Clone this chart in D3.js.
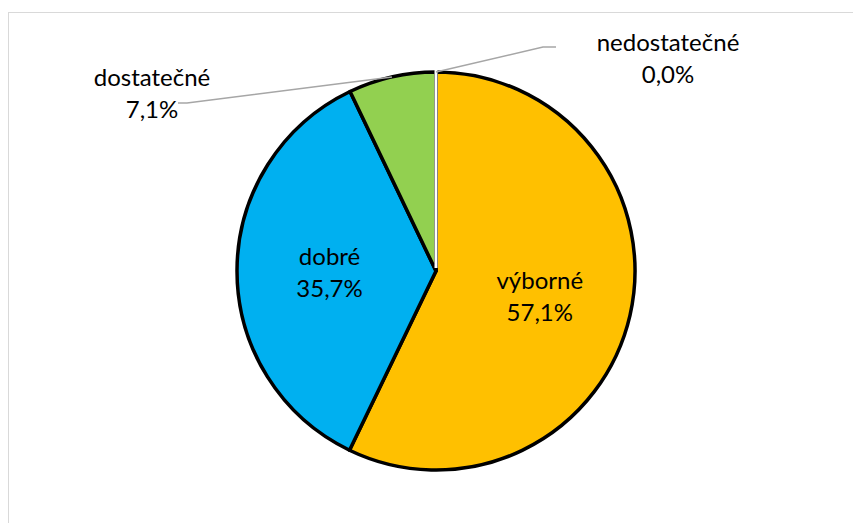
<!DOCTYPE html>
<html><head><meta charset="utf-8">
<script src="https://cdn.jsdelivr.net/npm/d3@7"></script>
<style>
html,body{margin:0;padding:0;background:#fff;}
svg{display:block;}
text{font-family:Lato,"Open Sans",sans-serif;fill:#000;}
</style></head>
<body>
<script>
// data
const categories = ["výborné", "dobré", "dostatečné", "nedostatečné"];
const values = [57.1, 35.7, 7.1, 0.0];
const valueLabels = ["57,1%", "35,7%", "7,1%", "0,0%"];
const colors = ["#FFC000", "#00B0F0", "#92D050", "#FFFFFF"];

const W = 853, H = 523;
const svg = d3.select("body").append("svg").attr("width", W).attr("height", H);

// chart frame
svg.append("rect").attr("x", 8.5).attr("y", 12.5).attr("width", W + 10).attr("height", H + 10)
  .attr("fill", "#fff").attr("stroke", "#d9d9d9").attr("stroke-width", 1);

const cx = 436, cy = 271, R = 199;
const g = svg.append("g").attr("transform", `translate(${cx},${cy})`);

const data = categories.map((c, i) => ({cat: c, value: values[i], label: valueLabels[i], color: colors[i]}));
const pie = d3.pie().sort(null).value(d => d.value);
const arcs = pie(data);
const arc = d3.arc().innerRadius(0).outerRadius(R);

// slices with black outline
g.selectAll("path.slice").data(arcs.filter(a => a.data.value > 0)).join("path")
  .attr("class", "slice")
  .attr("d", arc)
  .attr("fill", d => d.data.color)
  .attr("stroke", "#000").attr("stroke-width", 3.5).attr("stroke-linejoin", "round");

// zero slice: appears as a white line from centre to rim
arcs.filter(a => a.data.value === 0).forEach(a => {
  const ang = a.startAngle;
  g.append("line")
    .attr("x1", 0).attr("y1", 0)
    .attr("x2", (R - 0.5) * Math.sin(ang)).attr("y2", -(R - 0.5) * Math.cos(ang))
    .attr("stroke", "#fff").attr("stroke-width", 3)
    .attr("transform", `translate(0,${-3})`);
});

const fs = 24, lh = 32;
function twoLine(sel, x, yMid, a, b) {
  const t = sel.append("text").attr("text-anchor", "middle").attr("font-size", fs);
  t.append("tspan").attr("x", x).attr("y", yMid - lh / 2 + fs * 0.35).text(a);
  t.append("tspan").attr("x", x).attr("y", yMid + lh / 2 + fs * 0.35).text(b);
}

// inside labels
const labelArc = d3.arc().innerRadius(R * 0.535).outerRadius(R * 0.535);
arcs.filter(a => a.data.value >= 10).forEach(a => {
  const [x, y] = labelArc.centroid(a);
  twoLine(g, x, y + 2, a.data.cat, a.data.label);
});

// outside labels with leader lines (offsets relative to pie centre)
const outside = {
  "dostatečné": {lx: -284, ly: -177, elbow: [-249, -168], end: [-258, -168]},
  "nedostatečné": {lx: 232, ly: -212, elbow: [107, -224], end: [120, -224]}
};
arcs.filter(a => a.data.value < 10).forEach(a => {
  const o = outside[a.data.cat];
  const mid = (a.startAngle + a.endAngle) / 2;
  const p0 = [R * Math.sin(mid), -R * Math.cos(mid)];
  g.append("polyline")
    .attr("points", [p0, o.elbow, o.end].map(p => p.join(",")).join(" "))
    .attr("fill", "none").attr("stroke", "#a6a6a6").attr("stroke-width", 1.5);
  twoLine(g, o.lx, o.ly, a.data.cat, a.data.label);
});
</script>
</body></html>
